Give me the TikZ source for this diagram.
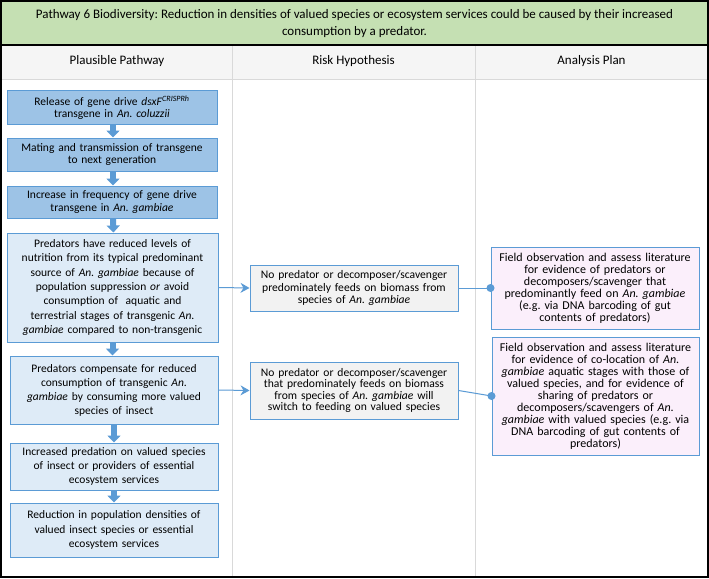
\documentclass[tikz,border=0pt]{standalone}
\usepackage{fontspec}
\setmainfont{Carlito}
\usetikzlibrary{arrows.meta}
\definecolor{bdark}{HTML}{9DC3E6}
\definecolor{blight}{HTML}{DEEBF7}
\definecolor{bline}{HTML}{5B9BD5}
\definecolor{gbox}{HTML}{F2F2F2}
\definecolor{pbox}{HTML}{FBEFFB}
\definecolor{tgreen}{HTML}{C5E0B3}
\definecolor{hgray}{HTML}{F5F5F5}
\definecolor{gridgray}{HTML}{D9D9D9}
\newcommand{\fs}[2]{\fontsize{#1}{#2}\selectfont\frenchspacing}
\tikzset{
  basebox/.style={draw=bline, line width=1pt, align=center, inner xsep=4pt, inner ysep=0pt},
  darkbox/.style={basebox, fill=bdark},
  lightbox/.style={basebox, fill=blight},
  graybox/.style={basebox, fill=gbox},
  pinkbox/.style={basebox, fill=pbox},
  blk/.style={draw=bline, line width=6pt, -{Triangle[width=13pt,length=7pt]}},
  thinarr/.style={draw=bline, line width=1pt, -{Stealth[length=9pt,width=10pt,inset=3pt]}},
  dotline/.style={draw=bline, line width=1pt},
}
\begin{document}
\begin{tikzpicture}[x=1pt,y=-1pt]
\useasboundingbox (0,0) rectangle (709,578);
% backgrounds
\fill[white] (0,0) rectangle (709,578);
\fill[tgreen] (1,1) rectangle (708,45);
\fill[hgray] (1,45) rectangle (708,79);
% grid lines
\draw[gridgray, line width=1pt] (1,79) -- (708,79);
\draw[gridgray, line width=1pt] (232,45) -- (232,576);
\draw[gridgray, line width=1pt] (475,45) -- (475,576);
\draw[black, line width=1.5pt] (1,45) -- (708,45);
\draw[black, line width=2pt] (1,1) rectangle (708,577);
% title and headers
\node[align=center, font=\fs{13}{17}] (title) at (354.5,23.5) {Pathway 6 Biodiversity: Reduction in densities of valued species or ecosystem services could be caused by their increased\\consumption by a predator.};
\node[font=\fs{13}{15}] (h1) at (117,61.5) {Plausible Pathway};
\node[font=\fs{13}{15}] (h2) at (353.5,61.5) {Risk Hypothesis};
\node[font=\fs{13}{15}] (h3) at (591.5,61.5) {Analysis Plan};
% left column
\node[darkbox, font=\fs{11.5}{12.2}, text width=202pt, minimum height=34pt] (b1) at (112,107.5) {Release of gene drive \textit{dsxF}\textsuperscript{\textit{CRISPRh}}\\transgene in \textit{An. coluzzii}};
\node[darkbox, font=\fs{11.5}{12.7}, text width=202pt, minimum height=33pt] (b2) at (112,154.5) {Mating and transmission of transgene\\to next generation};
\node[darkbox, font=\fs{11.5}{12.7}, text width=202pt, minimum height=32pt] (b3) at (112,202) {Increase in frequency of gene drive\\transgene in \textit{An. gambiae}};
\node[lightbox, font=\fs{11.5}{14.3}, text width=203pt, minimum height=109pt] (b4) at (112.5,287.5) {Predators have reduced levels of\\nutrition from its typical predominant\\source of \textit{An. gambiae} because of\\population suppression \textit{or} avoid\\consumption of~ aquatic and\\terrestrial stages of transgenic \textit{An.}\\\textit{gambiae} compared to non-transgenic};
\node[lightbox, font=\fs{11.5}{14}, text width=200pt, minimum height=68pt] (b5) at (114,390) {Predators compensate for reduced\\consumption of transgenic \textit{An.}\\\textit{gambiae} by consuming more valued\\species of insect};
\node[lightbox, font=\fs{11.5}{14.2}, text width=200pt, minimum height=47pt] (b6) at (114,466.5) {Increased predation on valued species\\of insect or providers of essential\\ecosystem services};
\node[lightbox, font=\fs{11.5}{14.2}, text width=200pt, minimum height=54pt] (b7) at (114,530) {Reduction in population densities of\\valued insect species or essential\\ecosystem services};
% middle column
\node[graybox, font=\fs{11.6}{12.5}, text width=200pt, minimum height=46pt] (ra) at (354,288) {No predator or decomposer/scavenger\\predominately feeds on biomass from\\species of \textit{An. gambiae}};
\node[graybox, font=\fs{11.6}{11.6}, text width=200pt, minimum height=57pt] (rb) at (354,390.5) {No predator or decomposer/scavenger\\that predominately feeds on biomass\\from species of \textit{An. gambiae} will\\switch to feeding on valued species};
% right column
\node[pinkbox, font=\fs{12}{12}, text width=200pt, minimum height=82pt] (pa) at (595,288) {Field observation and assess literature\\for evidence of predators or\\decomposers/scavenger that\\predominantly feed on \textit{An. gambiae}\\(e.g. via DNA barcoding of gut\\contents of predators)};
\node[pinkbox, font=\fs{12}{12}, text width=199pt, minimum height=118pt] (pb) at (595.5,396) {Field observation and assess literature\\for evidence of co-location of \textit{An.}\\\textit{gambiae} aquatic stages with those of\\valued species, and for evidence of\\sharing of predators or\\decomposers/scavengers of \textit{An.}\\\textit{gambiae} with valued species (e.g. via\\DNA barcoding of gut contents of\\predators)};
% block arrows
\draw[blk] ([xshift=1pt]b1.south) -- ([xshift=1pt]b2.north);
\draw[blk] ([xshift=1pt]b2.south) -- ([xshift=1pt]b3.north);
\draw[blk] ([xshift=1pt]b3.south) -- ([xshift=1pt]b4.north);
\draw[blk] (b4.south) -- (b4.south |- b5.north);
\draw[blk] (b5.south) -- (b6.north);
\draw[blk] (b6.south) -- (b7.north);
% thin arrows
\draw[thinarr] (b4.east) -- (ra.west);
\draw[thinarr] (b5.east) -- (rb.west);
% dot connectors
\draw[dotline] (ra.east) -- (pa.west);
\fill[bline] (pa.west) circle (4pt);
\draw[dotline] (rb.east) -- (pb.west);
\fill[bline] (pb.west) circle (4pt);
\end{tikzpicture}
\end{document}
